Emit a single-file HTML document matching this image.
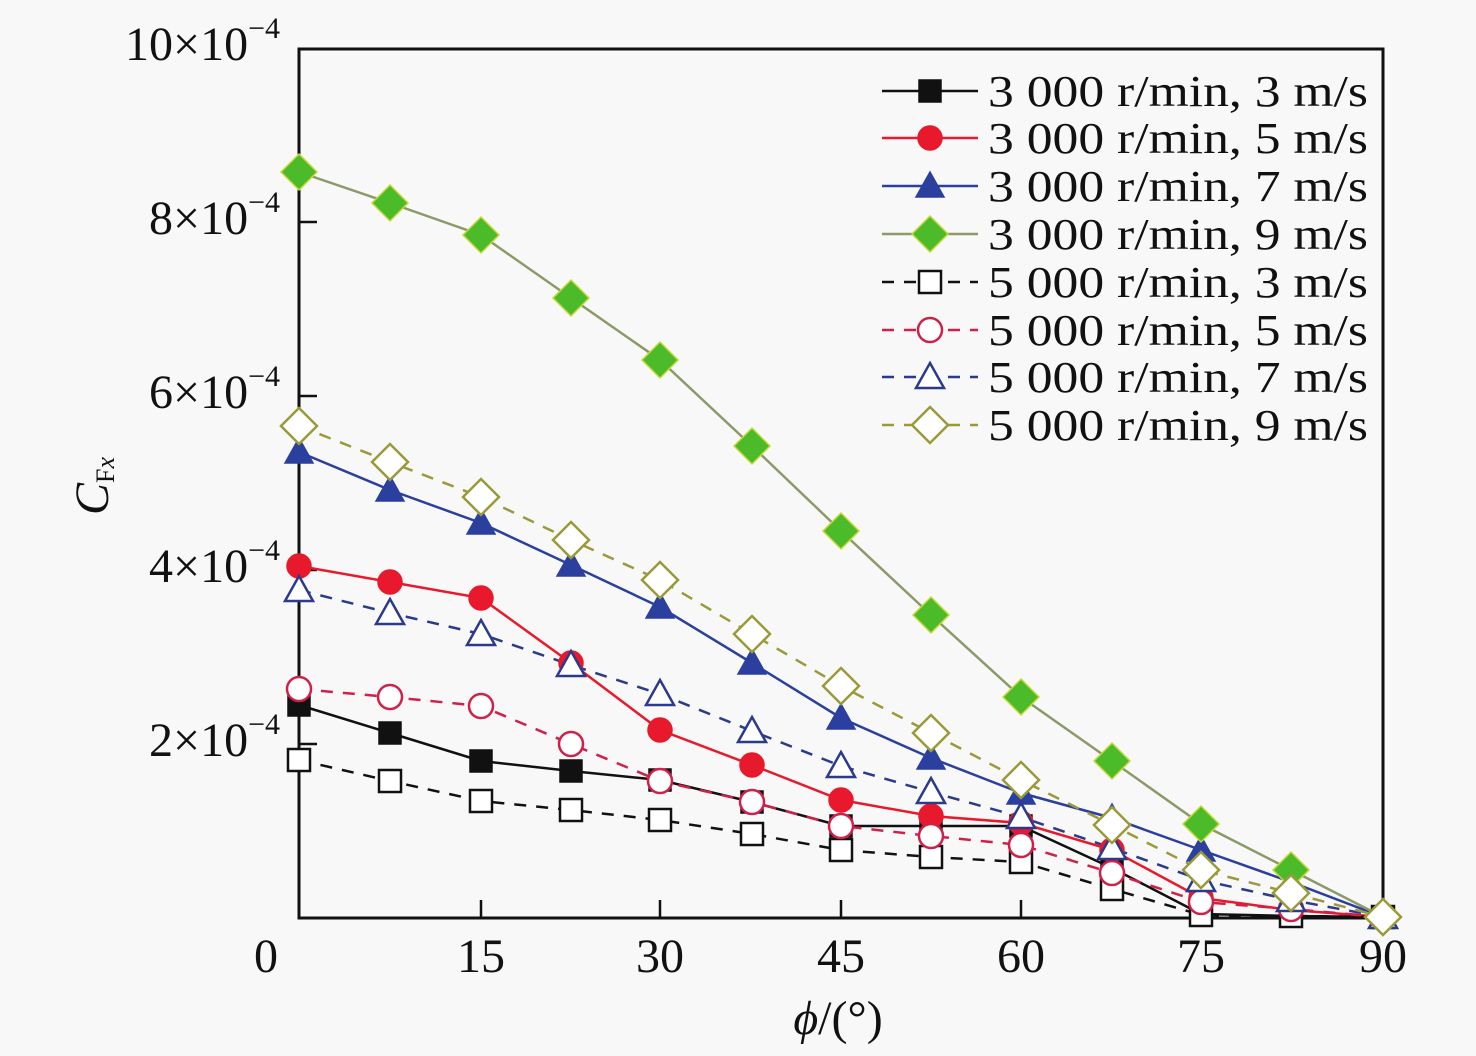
<!DOCTYPE html>
<html><head><meta charset="utf-8"><style>html,body{margin:0;padding:0;background:#f8f8f8}svg text{font-family:"Liberation Serif","Times New Roman",serif}</style></head>
<body>
<svg width="1476" height="1051" viewBox="0 0 1476 1051" xmlns="http://www.w3.org/2000/svg" style="font-family:'Liberation Serif',serif">
<rect width="1476" height="1051" fill="#f8f8f8"/>
<rect x="299" y="49" width="1084" height="869" fill="none" stroke="#111" stroke-width="3"/>
<g stroke="#111" stroke-width="2.5">
<line x1="481" y1="918" x2="481" y2="900"/><line x1="660" y1="918" x2="660" y2="900"/><line x1="841" y1="918" x2="841" y2="900"/><line x1="1021" y1="918" x2="1021" y2="900"/><line x1="1201" y1="918" x2="1201" y2="900"/>
<line x1="299" y1="744" x2="317" y2="744"/><line x1="299" y1="570" x2="317" y2="570"/><line x1="299" y1="396" x2="317" y2="396"/><line x1="299" y1="222" x2="317" y2="222"/>
</g>
<g font-size="48" fill="#111" text-anchor="middle">
<text x="266" y="972">0</text><text x="481" y="972">15</text><text x="660" y="972">30</text><text x="841" y="972">45</text><text x="1021" y="972">60</text><text x="1201" y="972">75</text><text x="1383" y="972">90</text>
</g>
<g font-size="48" fill="#111" text-anchor="end">
<text x="280" y="60">10×10<tspan font-size="30" dy="-22">−4</tspan></text>
<text x="280" y="234">8×10<tspan font-size="30" dy="-22">−4</tspan></text>
<text x="280" y="408">6×10<tspan font-size="30" dy="-22">−4</tspan></text>
<text x="280" y="582">4×10<tspan font-size="30" dy="-22">−4</tspan></text>
<text x="280" y="756">2×10<tspan font-size="30" dy="-22">−4</tspan></text>
</g>
<text transform="translate(108,515) rotate(-90)" font-size="48" fill="#111"><tspan font-style="italic">C</tspan><tspan font-size="26" dy="6">F<tspan font-style="italic">x</tspan></tspan></text>
<text x="838" y="1034" font-size="48" fill="#111" text-anchor="middle"><tspan font-style="italic">ϕ</tspan>/(°)</text>

<defs>
<rect id="sq" x="-11" y="-11" width="22" height="22"/>
<circle id="ci" r="12"/>
<polygon id="tr" points="0,-14 14,11 -14,11"/>
<polygon id="di" points="0,-18 18,0 0,18 -18,0"/>
</defs>

<g id="plot"></g>
<g id="legend"></g>
<script>
var xs=[299,390,481,571,660,752,841,931,1021,1112,1201,1291,1383];
var S=[
{y:[705,733,761,771,780,802,826,826,826,868,914,916,917],c:"#111",l:"#111",m:"sq",f:"#111",d:""},
{y:[566,582,598,663,730,765,800,816,823,850,898,910,917],c:"#e8192c",l:"#e8192c",m:"ci",f:"#e8192c",d:""},
{y:[452,490,523,565,607,663,718,758,793,818,850,882,917],c:"#2b3f9e",l:"#2b3f9e",m:"tr",f:"#2b3f9e",d:""},
{y:[172,203,235,298,360,446,531,615,697,761,824,870,917],c:"#c8d838",l:"#8c9a6a",m:"di",f:"#4cbb2a",d:""},
{y:[760,781,801,810,820,834,850,857,862,889,915,916,917],c:"#111",l:"#111",m:"sq",f:"#fff",d:"12,10"},
{y:[689,697,706,744,781,802,826,836,845,873,902,909,917],c:"#d0204a",l:"#d0204a",m:"ci",f:"#fff",d:"12,10"},
{y:[590,613,634,665,694,731,766,792,817,848,880,900,917],c:"#2b3a8a",l:"#2b3a8a",m:"tr",f:"#fff",d:"12,10"},
{y:[426,462,497,540,580,634,686,733,780,825,870,893,917],c:"#9a9a3a",l:"#9a9a3a",m:"di",f:"#fff",d:"12,10"}
];
var labels=["3 000 r/min, 3 m/s","3 000 r/min, 5 m/s","3 000 r/min, 7 m/s","3 000 r/min, 9 m/s","5 000 r/min, 3 m/s","5 000 r/min, 5 m/s","5 000 r/min, 7 m/s","5 000 r/min, 9 m/s"];
var ly=[91,138,186,234,282,330,377,425];
var ns="http://www.w3.org/2000/svg";
function el(t,a,p){var e=document.createElementNS(ns,t);for(var k in a)e.setAttribute(k,a[k]);p.appendChild(e);return e;}
var P=document.getElementById("plot"),L=document.getElementById("legend");
S.forEach(function(s){
 var pts=xs.map(function(x,i){return x+","+s.y[i];}).join(" ");
 el("polyline",{points:pts,fill:"none",stroke:s.l,"stroke-width":2.5,"stroke-dasharray":s.d},P);
});
S.forEach(function(s){
 var sw=(s.f=="#fff")?2.5:1.5;
 xs.forEach(function(x,i){el("use",{href:"#"+s.m,x:x,y:s.y[i],fill:s.f,stroke:s.c,"stroke-width":sw},P);});
});
S.forEach(function(s,i){
 var y=ly[i];
 el("line",{x1:882,y1:y,x2:978,y2:y,stroke:s.l,"stroke-width":2.5,"stroke-dasharray":s.d},L);
 el("use",{href:"#"+s.m,x:930,y:y,fill:s.f,stroke:s.c,"stroke-width":(s.f=="#fff")?2.5:1.5},L);
 var t=el("text",{x:988,y:y+15,"font-size":44,fill:"#111",textLength:380,lengthAdjust:"spacingAndGlyphs"},L);
 t.textContent=labels[i];
});
</script>
</svg>
</body></html>
